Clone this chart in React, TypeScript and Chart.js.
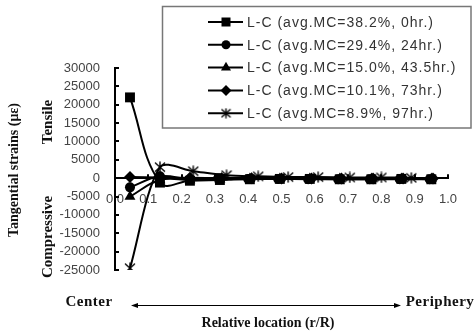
import React, { useEffect, useRef } from "react";
import { Chart, registerables } from "chart.js";

Chart.register(...registerables);

// ---------- data ----------
const seriesLabels = [
  "L-C (avg.MC=38.2%, 0hr.)",
  "L-C (avg.MC=29.4%, 24hr.)",
  "L-C (avg.MC=15.0%, 43.5hr.)",
  "L-C (avg.MC=10.1%, 73hr.)",
  "L-C (avg.MC=8.9%, 97hr.)",
];

const xSquare = [0.045, 0.135, 0.225, 0.315, 0.405, 0.495, 0.585, 0.675, 0.77, 0.86, 0.95];
const xCircle = [0.045, 0.135, 0.225, 0.31, 0.4, 0.49, 0.58, 0.67, 0.765, 0.855, 0.945];
const xTriangle = [0.045, 0.135, 0.225, 0.315, 0.405, 0.495, 0.585, 0.675, 0.77, 0.86, 0.95];
const xDiamond = [0.045, 0.135, 0.225, 0.32, 0.41, 0.5, 0.59, 0.68, 0.775, 0.865, 0.955];
const xStar = [0.045, 0.135, 0.235, 0.335, 0.43, 0.52, 0.61, 0.705, 0.8, 0.89];

const mc382 = [22000, -1200, -700, -500, -300, -200, -200, -300, -300, -200, -300];
const mc294 = [-2500, 500, -300, 0, -200, -200, -300, -300, -300, -300, -300];
const mc150 = [-5000, -500, -500, -300, -200, -200, -200, -200, -200, -200, -200];
const mc101 = [300, 200, 100, 0, 0, -100, -100, -100, -100, -100, -100];
const mc89 = [-24500, 3000, 1900, 800, 500, 300, 300, 200, 200, 100];

const yMin = -25000;
const yMax = 30000;
const yStep = 5000;
const xTickLabels = ["0.0", "0.1", "0.2", "0.3", "0.4", "0.5", "0.6", "0.7", "0.8", "0.9", "1.0"];

// ---------- helpers ----------
function makeAsterisk(size: number): HTMLCanvasElement {
  const c = document.createElement("canvas");
  c.width = size;
  c.height = size;
  const g = c.getContext("2d")!;
  g.strokeStyle = "#000";
  g.lineWidth = 1.4;
  const m = size / 2;
  g.beginPath();
  g.moveTo(m, 0.5);
  g.lineTo(m, size - 0.5);
  g.moveTo(1, 1.5);
  g.lineTo(size - 1, size - 1.5);
  g.moveTo(size - 1, 1.5);
  g.lineTo(1, size - 1.5);
  g.stroke();
  return c;
}

function drawMarker(ctx: CanvasRenderingContext2D, kind: string, x: number, y: number, star: HTMLCanvasElement) {
  ctx.save();
  ctx.fillStyle = "#000";
  ctx.beginPath();
  if (kind === "rect") {
    ctx.rect(x - 4.5, y - 4.5, 9, 9);
    ctx.fill();
  } else if (kind === "circle") {
    ctx.arc(x, y, 4.5, 0, Math.PI * 2);
    ctx.fill();
  } else if (kind === "triangle") {
    const r = 5.8;
    ctx.moveTo(x, y - r);
    ctx.lineTo(x + r * Math.sin((2 * Math.PI) / 3), y - r * Math.cos((2 * Math.PI) / 3));
    ctx.lineTo(x + r * Math.sin((4 * Math.PI) / 3), y - r * Math.cos((4 * Math.PI) / 3));
    ctx.closePath();
    ctx.fill();
  } else if (kind === "rectRot") {
    const r = 5.5;
    ctx.moveTo(x, y - r);
    ctx.lineTo(x + r, y);
    ctx.lineTo(x, y + r);
    ctx.lineTo(x - r, y);
    ctx.closePath();
    ctx.fill();
  } else {
    ctx.drawImage(star, x - star.width / 2, y - star.height / 2);
  }
  ctx.restore();
}

const SERIF = "'Liberation Serif', 'Times New Roman', serif";
const SANS = "'Liberation Sans', Arial, sans-serif";

export default function App() {
  const ref = useRef<HTMLCanvasElement | null>(null);

  useEffect(() => {
    const canvas = ref.current;
    if (!canvas) return;
    const star = makeAsterisk(11);
    const starBig = makeAsterisk(12);
    const kinds = ["rect", "circle", "triangle", "rectRot", "star"];

    const mk = (xs: number[], ys: number[]) => xs.map((x, i) => ({ x, y: ys[i] }));
    const pointStyles: any[] = ["rect", "circle", "triangle", "rectRot", starBig];
    const radii = [7, 5, 6.3, 6, 6];
    const tensions = [0.4, 0.4, 0.4, 0.4, 0.3];
    const dataSets = [
      mk(xSquare, mc382),
      mk(xCircle, mc294),
      mk(xTriangle, mc150),
      mk(xDiamond, mc101),
      mk(xStar, mc89),
    ];

    const decor = {
      id: "decor",
      beforeDatasetsDraw(chart: any) {
        const ctx: CanvasRenderingContext2D = chart.ctx;
        const { left } = chart.chartArea;
        const ys = chart.scales.y;
        const xs = chart.scales.x;
        const y0 = ys.getPixelForValue(0);
        ctx.save();
        ctx.strokeStyle = "#000";
        ctx.lineWidth = 2;
        ctx.beginPath();
        for (let v = yMin; v <= yMax; v += yStep) {
          const py = Math.round(ys.getPixelForValue(v));
          ctx.moveTo(left, py);
          ctx.lineTo(left + 4, py);
        }
        for (let i = 0; i < xTickLabels.length; i++) {
          const px = Math.round(xs.getPixelForValue(i / 10));
          ctx.moveTo(px, y0);
          ctx.lineTo(px, y0 - 4);
        }
        ctx.stroke();
        ctx.restore();
      },
      afterDraw(chart: any) {
        const ctx: CanvasRenderingContext2D = chart.ctx;
        ctx.save();
        ctx.fillStyle = "#111";
        ctx.textAlign = "center";
        ctx.textBaseline = "middle";

        // y title
        ctx.save();
        ctx.translate(14, 170);
        ctx.rotate(-Math.PI / 2);
        ctx.font = `bold 14px ${SERIF}`;
        ctx.fillText("Tangential strains (\u03bc\u03b5)", 0, 0);
        ctx.restore();

        ctx.save();
        ctx.translate(48, 122);
        ctx.rotate(-Math.PI / 2);
        ctx.font = `bold 15px ${SERIF}`;
        ctx.fillText("Tensile", 0, 0);
        ctx.restore();

        ctx.save();
        ctx.translate(48, 237);
        ctx.rotate(-Math.PI / 2);
        ctx.font = `bold 15px ${SERIF}`;
        ctx.fillText("Compressive", 0, 0);
        ctx.restore();

        // bottom labels
        ctx.font = `bold 15px ${SERIF}`;
        (ctx as any).letterSpacing = "0.5px";
        ctx.fillText("Center", 89, 302);
        ctx.fillText("Periphery", 440, 302);
        (ctx as any).letterSpacing = "0px";
        ctx.font = `bold 14px ${SERIF}`;
        ctx.fillText("Relative location (r/R)", 268, 323);

        // arrow
        ctx.strokeStyle = "#000";
        ctx.lineWidth = 1;
        ctx.beginPath();
        ctx.moveTo(134, 305.5);
        ctx.lineTo(398, 305.5);
        ctx.stroke();
        ctx.fillStyle = "#000";
        ctx.beginPath();
        ctx.moveTo(131, 305.5);
        ctx.lineTo(138, 303);
        ctx.lineTo(138, 308);
        ctx.closePath();
        ctx.fill();
        ctx.beginPath();
        ctx.moveTo(401, 305.5);
        ctx.lineTo(394, 303);
        ctx.lineTo(394, 308);
        ctx.closePath();
        ctx.fill();

        // legend box
        ctx.fillStyle = "#fff";
        ctx.fillRect(162, 6, 309, 122);
        ctx.strokeStyle = "#777";
        ctx.lineWidth = 1.5;
        ctx.strokeRect(162.5, 6.5, 308.5, 121.5);
        ctx.textAlign = "left";
        ctx.font = `14px ${SANS}`;
        (ctx as any).letterSpacing = "1px";
        for (let i = 0; i < seriesLabels.length; i++) {
          const ry = 22 + i * 22.8;
          ctx.strokeStyle = "#000";
          ctx.lineWidth = 2;
          ctx.beginPath();
          ctx.moveTo(208, ry);
          ctx.lineTo(243, ry);
          ctx.stroke();
          drawMarker(ctx, kinds[i], 226, ry, star);
          ctx.fillStyle = "#333";
          ctx.fillText(seriesLabels[i], 247, ry + 1);
        }
        (ctx as any).letterSpacing = "0px";
        ctx.restore();
      },
    };

    const chart = new Chart(canvas, {
      type: "line",
      data: {
        datasets: dataSets.map((d, i) => ({
          label: seriesLabels[i],
          data: d,
          borderColor: "#000",
          backgroundColor: "#000",
          borderWidth: 2,
          pointStyle: pointStyles[i],
          pointRadius: radii[i],
          pointBorderWidth: 0,
          pointBackgroundColor: "#000",
          tension: tensions[i],
          fill: false,
        })),
      },
      options: {
        animation: false,
        responsive: false,
        devicePixelRatio: 1,
        layout: { padding: { left: 0, right: 26, top: 68, bottom: 66 } },
        plugins: { legend: { display: false }, tooltip: { enabled: false } },
        scales: {
          x: {
            type: "linear",
            position: { y: 0 } as any,
            min: 0,
            max: 1,
            grid: { display: false, drawTicks: false },
            border: { display: true, color: "#000", width: 2 },
            ticks: {
              stepSize: 0.1,
              autoSkip: false,
              maxRotation: 0,
              padding: 13,
              color: "#444",
              font: { family: SANS, size: 13 },
              callback: (v: any) => xTickLabels[Math.round(Number(v) * 10)] ?? "",
            },
          },
          y: {
            type: "linear",
            min: yMin,
            max: yMax,
            grid: { display: false, drawTicks: false },
            border: { display: true, color: "#000", width: 2 },
            afterFit: (s: any) => {
              s.width = 115;
            },
            ticks: {
              stepSize: yStep,
              autoSkip: false,
              padding: 15,
              color: "#444",
              font: { family: SANS, size: 13 },
              callback: (v: any) => String(v),
            },
          },
        },
      },
      plugins: [decor],
    } as any);

    return () => chart.destroy();
  }, []);

  return (
    <div style={{ position: "absolute", left: 0, top: 0, width: 474, height: 336, background: "#fff" }}>
      <canvas ref={ref} width={474} height={336} style={{ display: "block" }} />
    </div>
  );
}
